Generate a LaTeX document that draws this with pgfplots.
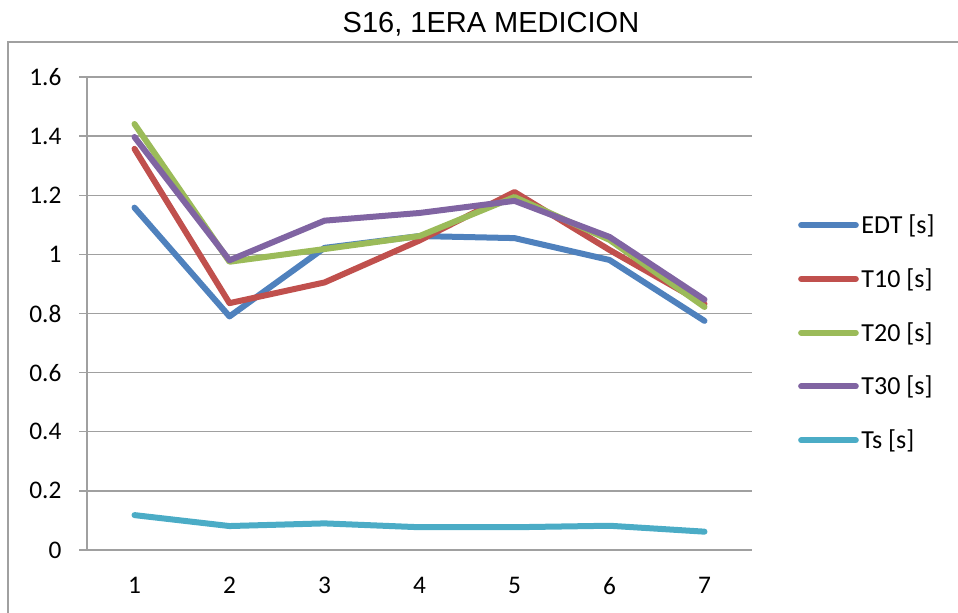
\documentclass[border=0pt]{standalone}
\usepackage{fontspec}
\setmainfont{Carlito}
\newfontfamily\titlefont{Liberation Sans}
\usepackage{pgfplots}
\pgfplotsset{compat=1.18}

\definecolor{cEDT}{HTML}{4F81BD}
\definecolor{cTten}{HTML}{C0504D}
\definecolor{cTtwenty}{HTML}{9BBB59}
\definecolor{cTthirty}{HTML}{8064A2}
\definecolor{cTs}{HTML}{4BACC6}
\definecolor{gridgray}{HTML}{A0A0A0}

\begin{document}
\begin{tikzpicture}
% page: 958 x 613 px at 0.75pt per px
\path[use as bounding box] (0pt,0pt) rectangle (718.5pt,459.75pt);
\draw[gridgray, line width=1.1pt] (6pt,0pt) -- (6pt,428.25pt) -- (718.5pt,428.25pt);
\node[font=\titlefont\fontsize{21.75}{22}\selectfont, anchor=base, inner sep=0pt]
  at (368.25pt,435pt) {S16, 1ERA MEDICION};
\begin{axis}[
  at={(65.25pt,47.25pt)}, anchor=south west,
  scale only axis, width=498.75pt, height=354.75pt,
  xmin=0.5, xmax=7.5, ymin=0, ymax=1.6,
  axis x line*=bottom, axis y line*=left,
  axis line style={gridgray, line width=1.1pt, -},
  xtick={1,...,7},
  minor xtick={0.5,1.5,...,7.5},
  ytick={0,0.2,...,1.6},
  tick align=outside,
  major tick length=6pt, minor tick length=6pt,
  xtick style={draw=none},
  minor x tick style={gridgray, line width=1.1pt},
  ytick style={gridgray, line width=1.1pt},
  ymajorgrids, grid style={gridgray, line width=1.1pt},
  tick label style={font=\fontsize{19}{19}\selectfont},
  /pgf/number format/assume math mode=true,
  yticklabel style={anchor=east, inner sep=0pt, xshift=-13pt},
  xticklabel style={anchor=north, inner sep=0pt, yshift=-14pt},
  legend style={at={(axis description cs:1.069,0.715)}, anchor=north west,
    draw=none, fill=none, inner sep=0pt,
    font=\fontsize{19.5}{19.5}\selectfont, row sep=20.75pt,
    nodes={inner sep=2pt}},
  legend cell align=left,
  legend image code/.code={\draw[#1, line cap=round] (0pt,0pt) -- (41pt,0pt);},
  every axis plot/.append style={line width=4.5pt, line cap=round, line join=round},
]
\addplot[cEDT] coordinates {(1,1.158)(2,0.790)(3,1.022)(4,1.062)(5,1.055)(6,0.981)(7,0.775)};
\addlegendentry{EDT [s]}
\addplot[cTten] coordinates {(1,1.357)(2,0.835)(3,0.905)(4,1.047)(5,1.211)(6,1.015)(7,0.832)};
\addlegendentry{T10 [s]}
\addplot[cTtwenty] coordinates {(1,1.441)(2,0.975)(3,1.018)(4,1.062)(5,1.194)(6,1.049)(7,0.822)};
\addlegendentry{T20 [s]}
\addplot[cTthirty] coordinates {(1,1.397)(2,0.980)(3,1.114)(4,1.140)(5,1.181)(6,1.059)(7,0.847)};
\addlegendentry{T30 [s]}
\addplot[cTs] coordinates {(1,0.118)(2,0.081)(3,0.090)(4,0.077)(5,0.077)(6,0.082)(7,0.062)};
\addlegendentry{Ts [s]}
\end{axis}
\end{tikzpicture}
\end{document}
